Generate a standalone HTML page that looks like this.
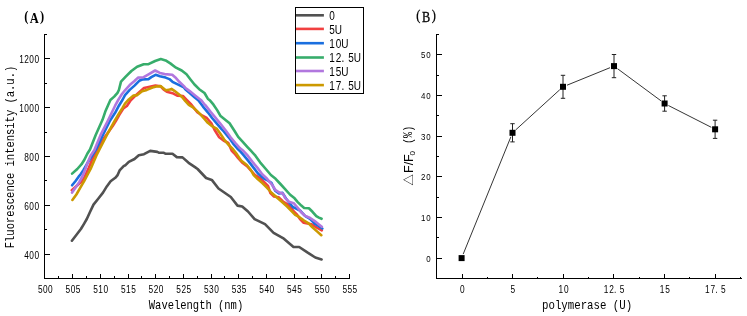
<!DOCTYPE html>
<html><head><meta charset="utf-8"><title>Figure</title>
<style>html,body{margin:0;padding:0;background:#fff}svg{display:block}</style></head>
<body>
<svg width="747" height="316" viewBox="0 0 747 316">
<rect width="747" height="316" fill="#fff"/>
<g stroke="#000" stroke-width="1" shape-rendering="crispEdges" fill="none">
<line x1="44.5" y1="34.0" x2="44.5" y2="279.0"/>
<line x1="44.0" y1="278.5" x2="350.0" y2="278.5"/>
<line x1="44.5" y1="254.5" x2="49.5" y2="254.5"/>
<line x1="44.5" y1="229.5" x2="47.3" y2="229.5"/>
<line x1="44.5" y1="205.5" x2="49.5" y2="205.5"/>
<line x1="44.5" y1="180.5" x2="47.3" y2="180.5"/>
<line x1="44.5" y1="156.5" x2="49.5" y2="156.5"/>
<line x1="44.5" y1="132.5" x2="47.3" y2="132.5"/>
<line x1="44.5" y1="107.5" x2="49.5" y2="107.5"/>
<line x1="44.5" y1="83.5" x2="47.3" y2="83.5"/>
<line x1="44.5" y1="58.5" x2="49.5" y2="58.5"/>
<line x1="44.5" y1="34.5" x2="47.3" y2="34.5"/>
<line x1="58.5" y1="278.5" x2="58.5" y2="275.7"/>
<line x1="72.5" y1="278.5" x2="72.5" y2="273.5"/>
<line x1="86.5" y1="278.5" x2="86.5" y2="275.7"/>
<line x1="100.5" y1="278.5" x2="100.5" y2="273.5"/>
<line x1="114.5" y1="278.5" x2="114.5" y2="275.7"/>
<line x1="128.5" y1="278.5" x2="128.5" y2="273.5"/>
<line x1="141.5" y1="278.5" x2="141.5" y2="275.7"/>
<line x1="155.5" y1="278.5" x2="155.5" y2="273.5"/>
<line x1="169.5" y1="278.5" x2="169.5" y2="275.7"/>
<line x1="183.5" y1="278.5" x2="183.5" y2="273.5"/>
<line x1="197.5" y1="278.5" x2="197.5" y2="275.7"/>
<line x1="211.5" y1="278.5" x2="211.5" y2="273.5"/>
<line x1="224.5" y1="278.5" x2="224.5" y2="275.7"/>
<line x1="238.5" y1="278.5" x2="238.5" y2="273.5"/>
<line x1="252.5" y1="278.5" x2="252.5" y2="275.7"/>
<line x1="266.5" y1="278.5" x2="266.5" y2="273.5"/>
<line x1="280.5" y1="278.5" x2="280.5" y2="275.7"/>
<line x1="294.5" y1="278.5" x2="294.5" y2="273.5"/>
<line x1="307.5" y1="278.5" x2="307.5" y2="275.7"/>
<line x1="321.5" y1="278.5" x2="321.5" y2="273.5"/>
<line x1="335.5" y1="278.5" x2="335.5" y2="275.7"/>
<line x1="349.5" y1="278.5" x2="349.5" y2="273.5"/>
</g>
<g fill="#000">
<text transform="translate(24.00,259.10) scale(0.800,1)" x="3.19 9.56 15.94" font-family='"Liberation Sans", sans-serif' font-size="10.4" text-anchor="middle">400</text>
<text transform="translate(24.00,210.10) scale(0.800,1)" x="3.19 9.56 15.94" font-family='"Liberation Sans", sans-serif' font-size="10.4" text-anchor="middle">600</text>
<text transform="translate(24.00,161.10) scale(0.800,1)" x="3.19 9.56 15.94" font-family='"Liberation Sans", sans-serif' font-size="10.4" text-anchor="middle">800</text>
<text transform="translate(18.90,112.10) scale(0.800,1)" x="3.19 9.56 15.94 22.31" font-family='"Liberation Sans", sans-serif' font-size="10.4" text-anchor="middle">1000</text>
<text transform="translate(18.90,63.10) scale(0.800,1)" x="3.19 9.56 15.94 22.31" font-family='"Liberation Sans", sans-serif' font-size="10.4" text-anchor="middle">1200</text>
<text transform="translate(37.65,293.00) scale(0.800,1)" x="3.19 9.56 15.94" font-family='"Liberation Sans", sans-serif' font-size="10.4" text-anchor="middle">500</text>
<text transform="translate(65.33,293.00) scale(0.800,1)" x="3.19 9.56 15.94" font-family='"Liberation Sans", sans-serif' font-size="10.4" text-anchor="middle">505</text>
<text transform="translate(93.01,293.00) scale(0.800,1)" x="3.19 9.56 15.94" font-family='"Liberation Sans", sans-serif' font-size="10.4" text-anchor="middle">510</text>
<text transform="translate(120.70,293.00) scale(0.800,1)" x="3.19 9.56 15.94" font-family='"Liberation Sans", sans-serif' font-size="10.4" text-anchor="middle">515</text>
<text transform="translate(148.38,293.00) scale(0.800,1)" x="3.19 9.56 15.94" font-family='"Liberation Sans", sans-serif' font-size="10.4" text-anchor="middle">520</text>
<text transform="translate(176.06,293.00) scale(0.800,1)" x="3.19 9.56 15.94" font-family='"Liberation Sans", sans-serif' font-size="10.4" text-anchor="middle">525</text>
<text transform="translate(203.74,293.00) scale(0.800,1)" x="3.19 9.56 15.94" font-family='"Liberation Sans", sans-serif' font-size="10.4" text-anchor="middle">530</text>
<text transform="translate(231.42,293.00) scale(0.800,1)" x="3.19 9.56 15.94" font-family='"Liberation Sans", sans-serif' font-size="10.4" text-anchor="middle">535</text>
<text transform="translate(259.10,293.00) scale(0.800,1)" x="3.19 9.56 15.94" font-family='"Liberation Sans", sans-serif' font-size="10.4" text-anchor="middle">540</text>
<text transform="translate(286.79,293.00) scale(0.800,1)" x="3.19 9.56 15.94" font-family='"Liberation Sans", sans-serif' font-size="10.4" text-anchor="middle">545</text>
<text transform="translate(314.47,293.00) scale(0.800,1)" x="3.19 9.56 15.94" font-family='"Liberation Sans", sans-serif' font-size="10.4" text-anchor="middle">550</text>
<text transform="translate(342.15,293.00) scale(0.800,1)" x="3.19 9.56 15.94" font-family='"Liberation Sans", sans-serif' font-size="10.4" text-anchor="middle">555</text>
<text transform="translate(196.00,308.50) scale(0.808,1)" font-family='"Liberation Mono", monospace' font-size="13" text-anchor="middle">Wavelength (nm)</text>
<text transform="translate(13.80,157.00) rotate(-90) scale(0.808,1)" font-family='"Liberation Mono", monospace' font-size="13" text-anchor="middle">Fluorescence intensity (a.u.)</text>
<text transform="translate(22.40,22.60) scale(0.880,1)" x="4.49 13.47 22.44" y="-1.80 0.00 -1.80" font-family='"Liberation Serif", serif' font-size="14.2" font-weight="bold" text-anchor="middle">(A)</text>
</g>
<g fill="none" stroke-linejoin="round" stroke-linecap="round">
<polyline points="71.9,240.7 76.5,234.8 80.9,229.0 84.0,223.8 86.8,219.0 90.0,212.0 93.5,204.6 98.2,198.7 103.0,192.6 106.8,186.4 110.6,181.2 115.3,177.8 117.4,175.4 119.6,170.4 123.9,165.9 125.5,165.2 128.8,161.8 134.5,159.0 138.8,155.2 144.0,154.2 150.2,150.9 157.3,151.9 159.2,152.8 163.9,152.8 165.8,153.8 172.5,153.8 176.8,157.1 182.5,157.4 188.6,162.8 195.0,167.1 197.6,169.0 206.1,178.0 211.8,179.9 218.5,188.5 230.8,197.0 237.5,205.6 242.2,206.5 248.0,211.5 254.6,219.1 265.0,224.2 273.6,232.8 283.0,238.1 293.5,247.0 299.2,247.0 307.7,252.7 315.3,257.5 321.6,259.4" stroke="#515151" stroke-width="2.6"/>
<polyline points="71.8,190.2 76.0,186.5 81.1,182.0 84.0,178.0 88.7,168.0 91.1,162.3 94.0,155.7 97.2,150.0 100.3,143.5 104.8,137.0 108.8,131.5 112.7,126.0 116.1,120.5 119.3,114.8 123.3,108.5 126.9,106.0 130.7,100.3 134.5,96.5 139.2,92.2 144.0,88.0 148.7,87.0 155.4,85.6 160.6,86.3 163.5,89.5 166.8,91.8 172.5,93.2 177.2,95.6 182.9,96.0 186.7,99.8 190.7,103.8 194.0,108.0 197.3,112.3 202.0,115.5 206.8,118.0 211.6,123.7 214.5,129.7 219.2,137.3 223.5,140.5 228.3,143.0 231.6,150.5 234.5,153.5 238.0,158.0 242.0,162.5 247.0,166.2 251.0,170.5 255.0,175.0 260.1,178.2 264.2,182.1 268.0,185.9 270.4,193.0 274.0,196.5 278.5,197.3 283.0,201.5 288.0,204.6 291.8,208.9 293.8,211.5 297.1,214.7 300.0,219.0 303.7,222.8 307.5,223.5 311.3,224.2 316.1,227.1 321.8,230.4" stroke="#F14040" stroke-width="2.6"/>
<polyline points="72.1,185.3 75.4,181.2 78.8,176.4 80.2,174.9 83.5,169.9 87.0,163.8 91.0,157.5 94.9,151.0 96.3,149.0 102.8,135.2 110.1,120.5 115.1,112.8 118.9,105.7 122.7,99.5 125.0,95.1 129.7,89.9 134.5,85.6 139.2,80.8 142.3,79.5 148.5,79.1 151.3,77.2 155.6,74.8 159.9,76.2 165.6,77.6 169.4,79.1 172.5,81.8 178.2,84.6 183.9,87.4 185.5,89.5 189.7,93.0 194.5,97.3 198.5,100.5 203.0,106.6 207.8,112.3 212.5,118.5 217.5,124.3 221.6,129.2 224.0,131.6 228.7,137.3 233.0,143.3 237.3,148.5 240.5,151.7 244.0,155.7 248.7,161.4 253.5,167.6 258.2,173.7 263.9,178.5 267.0,180.0 271.4,182.8 275.2,190.7 279.0,193.5 282.5,192.9 286.0,198.5 289.9,203.5 292.8,207.0 295.6,208.4 300.0,210.5 305.0,215.8 310.0,218.8 315.1,224.0 318.5,226.0 322.3,228.5" stroke="#1A6FDF" stroke-width="2.6"/>
<polyline points="72.1,173.6 77.3,169.0 81.6,164.2 84.5,159.5 87.3,153.8 90.0,149.5 95.6,135.2 102.5,119.8 105.2,111.8 108.5,104.2 110.4,100.0 114.2,96.6 117.5,92.8 118.9,90.0 121.0,81.6 125.7,76.7 131.4,71.0 137.1,66.7 143.7,64.2 148.5,64.2 155.1,61.0 160.8,59.1 165.6,60.4 170.3,63.4 176.0,67.7 181.7,70.5 186.5,74.3 190.7,79.7 194.5,84.5 199.2,89.2 204.5,93.0 207.8,98.7 209.7,100.2 213.5,104.7 217.3,110.4 220.6,116.1 224.9,119.5 229.6,123.3 231.0,125.5 234.4,130.7 238.2,136.9 243.0,142.1 247.7,147.3 250.4,150.2 255.4,155.7 260.1,162.3 265.8,169.0 270.9,175.0 275.6,178.8 280.4,184.0 285.1,189.2 289.9,194.5 294.6,198.3 297.5,201.8 301.3,205.6 304.2,208.0 308.9,208.3 312.5,211.8 316.3,216.1 318.9,217.6 321.6,218.8" stroke="#37AD6B" stroke-width="2.6"/>
<polyline points="72.1,192.6 75.4,187.8 79.2,182.1 82.6,176.0 85.4,169.0 87.8,162.3 90.6,155.7 94.4,150.0 100.5,135.2 108.2,120.0 111.7,112.8 115.1,105.7 118.5,99.5 121.8,94.3 125.0,90.3 129.7,85.1 134.2,81.2 138.0,77.6 143.7,77.2 149.4,73.8 155.1,70.5 159.9,72.9 164.6,74.1 172.2,74.8 176.0,78.1 179.3,81.8 183.9,86.1 185.5,88.0 189.7,91.1 194.5,94.9 199.2,98.7 201.3,100.3 204.0,103.8 205.9,105.7 210.6,111.9 215.4,117.6 220.1,123.3 225.9,130.7 230.6,137.3 235.4,143.0 240.1,148.3 242.6,150.2 247.8,155.7 252.5,161.9 257.3,167.6 262.2,174.2 267.1,178.8 271.8,184.5 275.6,190.2 279.4,192.6 282.8,193.5 285.1,197.8 289.0,201.8 293.7,203.2 297.5,207.5 301.5,212.6 305.3,215.9 310.2,218.0 314.8,221.1 318.6,224.2 321.8,226.8" stroke="#B177DE" stroke-width="2.6"/>
<polyline points="72.4,199.9 76.4,194.5 80.2,187.8 84.3,180.8 87.4,175.0 90.6,169.0 93.5,162.3 96.3,155.7 99.2,150.0 106.8,135.2 114.9,120.3 118.9,113.7 122.7,107.6 125.0,103.6 128.8,99.4 133.5,95.6 137.3,95.1 142.1,91.3 146.8,89.9 152.5,87.5 156.3,86.5 160.6,86.1 163.0,88.0 165.8,90.2 168.7,89.9 171.5,88.9 174.4,90.8 178.2,93.7 182.0,97.0 185.4,101.2 188.8,104.8 192.6,107.1 196.4,110.4 200.2,114.2 204.0,118.5 207.8,122.8 211.5,125.8 216.6,128.6 220.2,133.5 224.0,139.2 227.8,144.0 233.0,149.2 236.8,154.1 241.1,160.5 246.8,165.0 250.6,169.7 253.7,175.1 257.7,179.1 262.3,183.1 267.1,187.8 271.8,193.0 276.6,197.3 281.8,201.7 287.1,206.5 291.8,211.3 295.2,214.8 299.5,217.2 304.0,220.5 308.6,223.4 312.1,227.0 317.0,231.4 321.3,235.2" stroke="#CC9900" stroke-width="2.6"/>
</g>
<rect x="295.5" y="7.5" width="68" height="86" fill="#fff" stroke="#000" stroke-width="1" shape-rendering="crispEdges"/>
<line x1="296" y1="15.3" x2="323.9" y2="15.3" stroke="#515151" stroke-width="2.6"/>
<text transform="translate(329.00,19.60) scale(0.820,1)" x="3.84" font-family='"Liberation Sans", sans-serif' font-size="12.2" text-anchor="middle">0</text>
<line x1="296" y1="28.9" x2="323.9" y2="28.9" stroke="#F14040" stroke-width="2.6"/>
<text transform="translate(329.00,33.62) scale(0.820,1)" x="3.84 11.52" font-family='"Liberation Sans", sans-serif' font-size="12.2" text-anchor="middle">5U</text>
<line x1="296" y1="43.2" x2="323.9" y2="43.2" stroke="#1A6FDF" stroke-width="2.6"/>
<text transform="translate(329.00,47.64) scale(0.820,1)" x="3.84 11.52 19.21" font-family='"Liberation Sans", sans-serif' font-size="12.2" text-anchor="middle">10U</text>
<line x1="296" y1="57.5" x2="323.9" y2="57.5" stroke="#37AD6B" stroke-width="2.6"/>
<text transform="translate(329.00,61.66) scale(0.820,1)" x="3.84 11.52 16.90 26.89 34.57" font-family='"Liberation Sans", sans-serif' font-size="12.2" text-anchor="middle">12.5U</text>
<line x1="296" y1="71.0" x2="323.9" y2="71.0" stroke="#B177DE" stroke-width="2.6"/>
<text transform="translate(329.00,75.68) scale(0.820,1)" x="3.84 11.52 19.21" font-family='"Liberation Sans", sans-serif' font-size="12.2" text-anchor="middle">15U</text>
<line x1="296" y1="85.1" x2="323.9" y2="85.1" stroke="#CC9900" stroke-width="2.6"/>
<text transform="translate(329.00,89.70) scale(0.820,1)" x="3.84 11.52 16.90 26.89 34.57" font-family='"Liberation Sans", sans-serif' font-size="12.2" text-anchor="middle">17.5U</text>
<g stroke="#000" stroke-width="1" shape-rendering="crispEdges" fill="none">
<line x1="436.5" y1="34.0" x2="436.5" y2="279.0"/>
<line x1="436.0" y1="278.5" x2="742.0" y2="278.5"/>
<line x1="436.5" y1="258.5" x2="441.5" y2="258.5"/>
<line x1="436.5" y1="237.5" x2="439.3" y2="237.5"/>
<line x1="436.5" y1="217.5" x2="441.5" y2="217.5"/>
<line x1="436.5" y1="197.5" x2="439.3" y2="197.5"/>
<line x1="436.5" y1="176.5" x2="441.5" y2="176.5"/>
<line x1="436.5" y1="156.5" x2="439.3" y2="156.5"/>
<line x1="436.5" y1="136.5" x2="441.5" y2="136.5"/>
<line x1="436.5" y1="115.5" x2="439.3" y2="115.5"/>
<line x1="436.5" y1="95.5" x2="441.5" y2="95.5"/>
<line x1="436.5" y1="75.5" x2="439.3" y2="75.5"/>
<line x1="436.5" y1="54.5" x2="441.5" y2="54.5"/>
<line x1="436.5" y1="34.5" x2="439.3" y2="34.5"/>
<line x1="462.5" y1="278.5" x2="462.5" y2="273.5"/>
<line x1="487.5" y1="278.5" x2="487.5" y2="277.0"/>
<line x1="512.5" y1="278.5" x2="512.5" y2="273.5"/>
<line x1="537.5" y1="278.5" x2="537.5" y2="277.0"/>
<line x1="563.5" y1="278.5" x2="563.5" y2="273.5"/>
<line x1="588.5" y1="278.5" x2="588.5" y2="277.0"/>
<line x1="613.5" y1="278.5" x2="613.5" y2="273.5"/>
<line x1="639.5" y1="278.5" x2="639.5" y2="277.0"/>
<line x1="664.5" y1="278.5" x2="664.5" y2="273.5"/>
<line x1="689.5" y1="278.5" x2="689.5" y2="277.0"/>
<line x1="715.5" y1="278.5" x2="715.5" y2="273.5"/>
<line x1="740.5" y1="278.5" x2="740.5" y2="277.0"/>
</g>
<text transform="translate(425.85,262.00) scale(0.800,1)" x="3.34" font-family='"Liberation Sans", sans-serif' font-size="9.9" text-anchor="middle">0</text>
<text transform="translate(420.50,221.00) scale(0.800,1)" x="3.34 10.03" font-family='"Liberation Sans", sans-serif' font-size="9.9" text-anchor="middle">10</text>
<text transform="translate(420.50,180.00) scale(0.800,1)" x="3.34 10.03" font-family='"Liberation Sans", sans-serif' font-size="9.9" text-anchor="middle">20</text>
<text transform="translate(420.50,140.00) scale(0.800,1)" x="3.34 10.03" font-family='"Liberation Sans", sans-serif' font-size="9.9" text-anchor="middle">30</text>
<text transform="translate(420.50,99.00) scale(0.800,1)" x="3.34 10.03" font-family='"Liberation Sans", sans-serif' font-size="9.9" text-anchor="middle">40</text>
<text transform="translate(420.50,58.00) scale(0.800,1)" x="3.34 10.03" font-family='"Liberation Sans", sans-serif' font-size="9.9" text-anchor="middle">50</text>
<text transform="translate(459.62,292.80) scale(0.800,1)" x="3.34" font-family='"Liberation Sans", sans-serif' font-size="10.4" text-anchor="middle">0</text>
<text transform="translate(510.24,292.80) scale(0.800,1)" x="3.34" font-family='"Liberation Sans", sans-serif' font-size="10.4" text-anchor="middle">5</text>
<text transform="translate(558.19,292.80) scale(0.800,1)" x="3.34 10.03" font-family='"Liberation Sans", sans-serif' font-size="10.4" text-anchor="middle">10</text>
<text transform="translate(603.46,292.80) scale(0.800,1)" x="3.34 10.03 14.71 23.41" font-family='"Liberation Sans", sans-serif' font-size="10.4" text-anchor="middle">12.5</text>
<text transform="translate(659.43,292.80) scale(0.800,1)" x="3.34 10.03" font-family='"Liberation Sans", sans-serif' font-size="10.4" text-anchor="middle">15</text>
<text transform="translate(704.70,292.80) scale(0.800,1)" x="3.34 10.03 14.71 23.41" font-family='"Liberation Sans", sans-serif' font-size="10.4" text-anchor="middle">17.5</text>
<text transform="translate(587.10,308.60) scale(0.826,1)" font-family='"Liberation Mono", monospace' font-size="13" text-anchor="middle">polymerase (U)</text>
<text transform="translate(413,185) rotate(-90)" fill="#000" font-family='"Liberation Sans", "Noto Sans CJK SC", sans-serif' font-size="12.5"><tspan x="-0.4" y="0.2" font-size="11.3">△</tspan><tspan x="12" y="0">F/F</tspan><tspan x="29.4" y="2" font-size="8">0</tspan><tspan x="35" y="-0.6" font-family='"Liberation Mono", monospace' font-size="12" textLength="24.2" lengthAdjust="spacingAndGlyphs"> (%)</tspan></text>
<text transform="translate(414.40,21.80) scale(0.860,1)" x="4.51 13.52 22.53" y="-2.20 0.00 -2.20" font-family='"Liberation Serif", serif' font-size="14.3" stroke="#000" stroke-width="0.3" text-anchor="middle">(B)</text>
<path fill="none" stroke="#111" stroke-width="0.85" d="M463.2,254.1L510.9,136.8M515.7,129.9L559.8,89.7M567.0,85.2L610.0,67.7M617.5,68.7L661.1,100.9M668.4,105.5L711.3,127.3"/>
<g stroke="#222" stroke-width="1" fill="none">
<path d="M512.5,123.7V141.9M510.3,123.7h4.4M510.3,141.9h4.4"/>
<path d="M563.0,75.3V98.3M560.8,75.3h4.4M560.8,98.3h4.4"/>
<path d="M614.0,54.5V77.7M611.8,54.5h4.4M611.8,77.7h4.4"/>
<path d="M664.6,95.8V111.2M662.4,95.8h4.4M662.4,111.2h4.4"/>
<path d="M715.1,120.2V138.4M712.9,120.2h4.4M712.9,138.4h4.4"/>
</g>
<rect x="458.6" y="255.1" width="6" height="6" fill="#000"/>
<rect x="509.5" y="129.8" width="6" height="6" fill="#000"/>
<rect x="560.0" y="83.8" width="6" height="6" fill="#000"/>
<rect x="611.0" y="63.1" width="6" height="6" fill="#000"/>
<rect x="661.6" y="100.5" width="6" height="6" fill="#000"/>
<rect x="712.1" y="126.3" width="6" height="6" fill="#000"/>
</svg>
</body></html>
